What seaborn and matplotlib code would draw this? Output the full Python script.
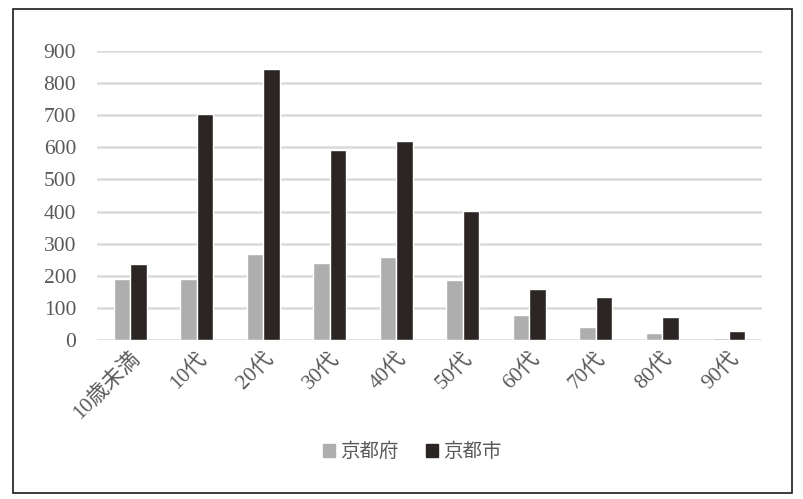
import matplotlib.pyplot as plt
import matplotlib.patches as mpatches
import seaborn as sns
import pandas as pd

# age groups and counts
ages = ['10歳未満', '10代', '20代', '30代', '40代', '50代', '60代', '70代', '80代', '90代']
fu = [190, 190, 268, 240, 258, 186, 78, 40, 21, 5]
shi = [236, 705, 843, 593, 621, 402, 158, 133, 71, 27]
series = ['京都府', '京都市']
colors = ['#ADAEAD', '#2B2623']
yticks = [0, 100, 200, 300, 400, 500, 600, 700, 800, 900]

df = pd.DataFrame({'age': ages * 2,
                   'n': fu + shi,
                   'group': [series[0]] * len(ages) + [series[1]] * len(ages)})

sns.set_style('white')
plt.rcParams['font.family'] = ['Liberation Serif', 'Noto Sans CJK JP', 'DejaVu Sans']
txtcol = '#595959'

fig = plt.figure(figsize=(8.04, 4.99), dpi=100)
ax = fig.add_axes([0.1206, 0.3186, 0.8272, 0.5792])

sns.barplot(data=df, x='age', y='n', hue='group', palette=colors,
            width=0.5, saturation=1, ax=ax, legend=False, zorder=3)

ax.set_ylim(0, 900)
ax.set_yticks(yticks)
ax.yaxis.grid(True, color='#D9D9D9', linewidth=1.8)
ax.set_axisbelow(True)
sns.despine(ax=ax, left=True, bottom=True)
ax.set(xlabel='', ylabel='')
ax.tick_params(axis='both', length=0, labelsize=15.5, colors=txtcol)
ax.tick_params(axis='y', pad=15)
ax.tick_params(axis='x', pad=6)
plt.setp(ax.get_xticklabels(), rotation=45, ha='right', rotation_mode='anchor')

# legend at the bottom centre
handles = [mpatches.Patch(color=c, label=s) for c, s in zip(colors, series)]
fig.legend(handles=handles, loc='center', bbox_to_anchor=(0.513, 0.094), ncol=2,
           frameon=False, fontsize=14, labelcolor=txtcol, handlelength=0.6,
           handleheight=0.6, handletextpad=0.3, columnspacing=1.4)

# outer frame
fig.add_artist(mpatches.Rectangle((13 / 804, 1 - 493 / 499), 779 / 804, 484 / 499,
                                  transform=fig.transFigure, fill=False,
                                  edgecolor='#1a1a1a', linewidth=1.2))

fig.savefig('out.png', dpi=100, facecolor='white')
